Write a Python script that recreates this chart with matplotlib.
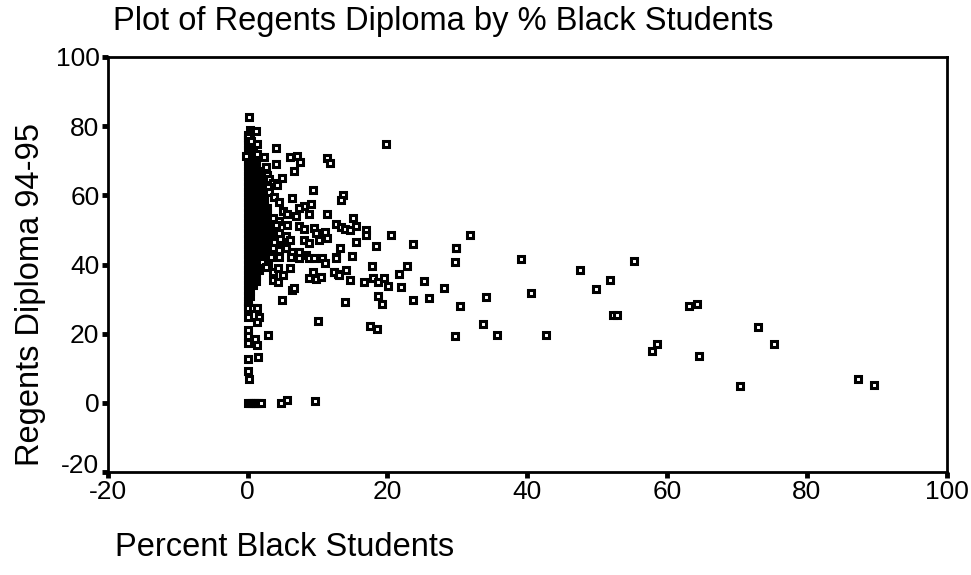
import matplotlib
matplotlib.use("Agg")
import matplotlib.pyplot as plt
from matplotlib.transforms import ScaledTranslation

plt.rcParams["font.family"] = ["Liberation Sans", "DejaVu Sans"]
plt.rcParams["axes.unicode_minus"] = False

# schools with almost no black students pile up in a dense column near 0%
core_columns = [0.0, 0.4, 0.8, 1.2, 1.6, 2.0, 2.4, 2.8, 3.2]
core_regents_by_column = [
    [28, 29.5, 31, 32.5, 34, 35.5, 37, 38.5, 40, 41.5, 43, 44.5, 46, 47.5, 49, 50.5, 52,
     53.5, 55, 56.5, 58, 59.5, 61, 62.5, 64, 65.5, 67, 68.5, 70, 71.5, 73, 74.5, 76, 77.5],
    [30.8, 32.3, 33.8, 35.3, 36.8, 38.3, 39.8, 41.3, 42.8, 44.3, 45.8, 47.3, 48.8, 50.3,
     51.8, 53.3, 54.8, 56.3, 57.8, 59.3, 60.8, 62.3, 63.8, 65.3, 66.8, 68.3, 69.8, 71.3,
     72.8, 74.3, 75.8, 77.3, 78.8],
    [34, 35.5, 37, 38.5, 40, 41.5, 43, 44.5, 46, 47.5, 49, 50.5, 52, 53.5, 55, 56.5, 58,
     59.5, 61, 62.5, 64, 65.5, 67, 68.5, 70, 71.5, 73, 74.5],
    [35.3, 36.8, 38.3, 39.8, 41.3, 42.8, 44.3, 45.8, 47.3, 48.8, 50.3, 51.8, 53.3, 54.8,
     56.3, 57.8, 59.3, 60.8, 62.3, 63.8, 65.3, 66.8, 68.3, 69.8],
    [38.5, 40, 41.5, 43, 44.5, 46, 47.5, 49, 50.5, 52, 53.5, 55, 56.5, 58, 59.5, 61, 62.5,
     64, 65.5, 67],
    [39.8, 41.3, 42.8, 44.3, 45.8, 47.3, 48.8, 50.3, 51.8, 53.3, 54.8, 56.3, 57.8, 59.3,
     60.8, 62.3, 63.8, 65.3],
    [43, 44.5, 46, 47.5, 49, 50.5, 52, 53.5, 55, 56.5, 58, 59.5],
    [44.3, 45.8, 47.3, 48.8, 50.3, 51.8, 53.3, 54.8, 56.3],
    [46, 47.5, 49, 50.5, 52],
]

# remaining schools
spread_pct = [
    0.2, 1.2, 0.0, 0.5, 1.3, 4.0, 1.3, -0.2, 2.4, 6.0, 7.1, 7.5, 11.4, 11.8, 4.0, 2.6,
    6.7, 2.8, 3.1, 4.9, 3.6, 4.2, 2.9, 9.4, 3.0, 3.8, 4.5, 6.3, 9.1, 8.1, 7.4, 13.7,
    13.4, 5.0, 5.7, 6.9, 8.8, 11.4, 15.1, 3.6, 4.5, 4.0, 5.7, 7.4, 8.1, 9.5, 9.8, 11.0,
    12.6, 13.3, 14.0, 14.6, 15.5, 16.9, 16.9, 4.5, 5.5, 10.2, 11.4, 8.1, 8.8, 3.8, 5.0,
    6.0, 3.6, 4.5, 5.5, 6.4, 7.4, 8.3, 3.3, 4.5, 6.2, 7.4, 8.8, 9.5, 10.7, 12.6, 2.1,
    2.9, 20.5, 23.6, 15.5, 18.3, 13.2, 29.8, 12.7, 15.0, 17.8, 22.8, 12.3, 13.0, 14.1,
    14.7, 16.7, 18.0, 18.6, 19.5, 20.1, 21.7, 22.0, 25.3, 18.7, 19.2, 23.7, 25.9, 14.0,
    17.5, 18.5, 19.8, 2.6, 3.6, 4.3, 5.0, 6.0, 8.8, 9.3, 9.8, 10.5, 11.0, 12.4, 13.1,
    3.6, 4.3, 6.4, 6.7, 4.9, 31.8, 29.8, 29.6, 39.1, 28.1, 34.1, 40.6, 30.4, 33.7,
    29.6, 35.7, 42.7, 47.5, 55.3, 51.9, 49.9, 52.3, 52.9, 63.1, 64.3, 73.0, 75.3, 57.8,
    58.6, 64.6, 70.5, 87.3, 89.6,
    0.0, 0.8, 1.4, 1.7, 1.4, 0.0, 10.1, 0.0, 0.0, 2.9, 1.0, 1.4, 0.0, 1.5, 0.0, 0.0,
    0.2, 0.0, 0.3, 0.6, 0.9, 1.2, 1.5, 1.9, 4.8, 5.6, 9.7,
]
spread_regents = [
    82.6, 78.6, 76.8, 75.8, 74.9, 73.8, 72.0, 71.5, 71.0, 71.0, 71.5, 69.7, 70.7, 69.3,
    69.1, 68.1, 67.1, 65.9, 64.7, 65.1, 63.5, 63.0, 62.5, 61.6, 60.9, 59.5, 58.2, 59.3,
    57.5, 57.0, 56.3, 60.0, 58.7, 55.5, 54.5, 54.1, 54.6, 54.7, 53.4, 53.4, 52.6, 51.4,
    51.4, 51.2, 50.3, 50.5, 49.0, 49.5, 51.6, 50.8, 50.4, 50.0, 51.2, 50.0, 48.6, 49.0,
    48.1, 47.1, 47.8, 47.1, 46.2, 46.6, 45.7, 47.1, 44.7, 44.2, 44.7, 43.7, 43.7, 42.8,
    42.2, 42.2, 42.1, 42.0, 42.0, 42.0, 41.9, 42.2, 40.8, 39.9, 48.4, 46.0, 46.5, 45.4,
    44.7, 44.9, 41.8, 42.4, 39.6, 39.6, 37.8, 37.2, 38.4, 35.5, 34.9, 36.2, 34.9, 36.1,
    33.8, 37.2, 33.4, 35.1, 30.9, 28.6, 29.8, 30.4, 29.1, 22.1, 21.5, 74.8, 39.4, 37.9,
    38.9, 37.0, 38.9, 36.0, 37.9, 35.8, 36.5, 40.4, 37.9, 37.0, 35.5, 34.8, 32.7, 33.1,
    29.8, 48.6, 44.9, 40.8, 41.6, 33.3, 30.5, 31.7, 28.0, 22.9, 19.4, 19.6, 19.7, 38.4,
    41.1, 35.4, 33.0, 25.5, 25.5, 27.9, 28.6, 21.8, 17.1, 15.1, 16.9, 13.5, 5.0, 6.8,
    5.2,
    27.4, 27.4, 27.4, 24.9, 23.5, 24.9, 23.8, 21.1, 19.2, 19.7, 18.5, 16.8, 17.3, 13.4,
    12.7, 9.2, 6.8, 0.0, 0.0, 0.0, 0.0, 0.0, 0.0, 0.0, -0.1, 0.7, 0.4,
]

axis_ticks = [-20, 0, 20, 40, 60, 80, 100]

core_pct = []
core_regents = []
for pct, column in zip(core_columns, core_regents_by_column):
    core_pct += [pct] * len(column)
    core_regents += column

fig = plt.figure(figsize=(9.71, 5.75), dpi=100)
ax = fig.add_axes([0.111, 0.179, 0.864, 0.722])

marker_style = dict(
    linestyle="none", marker="s", markersize=3.8,
    markeredgecolor="black", markeredgewidth=2.2,
)
# overlapping squares in the core read as one solid mass
ax.plot(core_pct, core_regents, markerfacecolor="black", **marker_style)
ax.plot(spread_pct, spread_regents, markerfacecolor="white", **marker_style)

ax.set_xlim(-20, 100)
ax.set_ylim(-20, 100)
ax.set_xticks(axis_ticks)
ax.set_yticks(axis_ticks)
ax.tick_params(direction="out", length=4, width=3.5, labelsize=19, pad=2, colors="black")

# lift the bottom y label so it clears the x axis labels
low_label = ax.get_yticklabels()[0]
low_label.set_transform(low_label.get_transform()
                        + ScaledTranslation(0, 0.09, fig.dpi_scale_trans))

for side in ["left", "right", "top", "bottom"]:
    ax.spines[side].set_linewidth(2)
    ax.spines[side].set_color("black")

fig.text(0.116, 0.962, "Plot of Regents Diploma by % Black Students",
         fontsize=23.5, ha="left", va="center")
fig.text(0.031, 0.487, "Regents Diploma 94-95", fontsize=23.5,
         rotation=90, ha="center", va="center")
fig.text(0.118, 0.047, "Percent Black Students", fontsize=23.5,
         ha="left", va="center")

fig.savefig("out.png", dpi=100)
plt.close(fig)
